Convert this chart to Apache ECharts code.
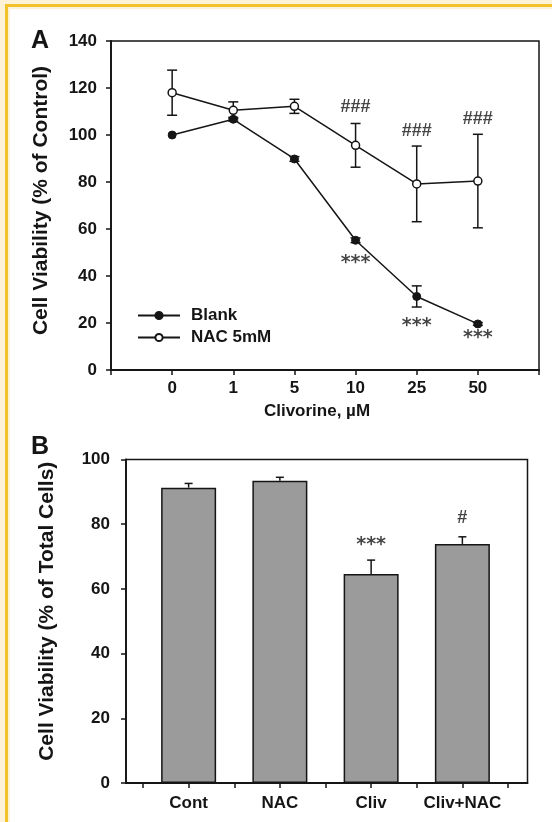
<!DOCTYPE html>
<html>
<head>
<meta charset="utf-8">
<script src="https://cdn.jsdelivr.net/npm/echarts@6/dist/echarts.min.js"></script>
<style>
html,body{margin:0;padding:0;background:#fdf1d6;}
#frame{position:absolute;left:5px;top:4px;width:560px;height:830px;border:3px solid #f2c12e;border-bottom:none;border-right:none;box-sizing:border-box;}
#inner{position:absolute;left:10px;top:9px;width:542px;height:813px;background:#ffffff;}
#chart{position:absolute;left:0;top:0;width:552px;height:822px;}
</style>
</head>
<body>
<div id="frame"></div>
<div id="inner"></div>
<div id="chart"></div>
<script>
// ---------- Panel A data ----------
const doseLabels = ['0', '1', '5', '10', '25', '50'];
const blankMean = [100, 106.7, 89.8, 55.2, 31.3, 19.6];
const blankErr  = [0, 0.8, 1.0, 1.0, 4.5, 0.6];
const nacMean   = [118.0, 110.5, 112.2, 95.6, 79.2, 80.4];
const nacErr    = [9.6, 3.6, 3.0, 9.3, 16.1, 19.9];
const hashIdx   = [3, 4, 5];          // "###" over NAC at 10, 25, 50
const hashAt    = [111.9, 101.6, 106.7];
const starIdxA  = [3, 4, 5];          // "***" under Blank at 10, 25, 50
const starAtA   = [46.8, 20.0, 14.9];
const yTicksA   = [0, 140, 20];       // min, max, step

// ---------- Panel B data ----------
const groups   = ['Cont', 'NAC', 'Cliv', 'Cliv+NAC'];
const viab     = [91.3, 93.4, 64.6, 73.9];
const viabErr  = [1.3, 1.1, 4.3, 2.2];
const sigTextB = ['***', '#'];
const sigIdxB  = [2, 3];
const sigAtB   = [74.6, 82.0];
const yTicksB  = [0, 100, 20];

const FONT = '"Liberation Sans", Arial, sans-serif';
const STARFONT = '"DejaVu Sans", sans-serif';
const INK = '#151515';

const chart = echarts.init(document.getElementById('chart'), null, {renderer: 'canvas'});

function errRender(params, api) {
  const x = api.value(0), y = api.value(1), e = api.value(2);
  if (!e) return null;
  const top = api.coord([x, y + e]);
  const bot = api.coord([x, y - e]);
  const h = 5;
  const st = {stroke: INK, lineWidth: 1.5};
  return {type: 'group', children: [
    {type: 'line', shape: {x1: top[0], y1: top[1], x2: bot[0], y2: bot[1]}, style: st},
    {type: 'line', shape: {x1: top[0] - h, y1: top[1], x2: top[0] + h, y2: top[1]}, style: st},
    {type: 'line', shape: {x1: bot[0] - h, y1: bot[1], x2: bot[0] + h, y2: bot[1]}, style: st}
  ]};
}
function errUpRender(params, api) {
  const x = api.value(0), y = api.value(1), e = api.value(2);
  const top = api.coord([x, y + e]);
  const base = api.coord([x, y]);
  const h = 4;
  const st = {stroke: INK, lineWidth: 1.5};
  return {type: 'group', children: [
    {type: 'line', shape: {x1: top[0], y1: top[1], x2: base[0], y2: base[1]}, style: st},
    {type: 'line', shape: {x1: top[0] - h, y1: top[1], x2: top[0] + h, y2: top[1]}, style: st}
  ]};
}

const axisLine = {show: true, lineStyle: {color: INK, width: 1.8}};
const tick = {show: true, length: 5, lineStyle: {color: INK, width: 1.5}};
const lblStyle = {color: INK, fontFamily: FONT, fontWeight: 'bold', fontSize: 17};

const option = {
  animation: false,
  title: [
    {text: 'A', left: 26, top: 24, textStyle: {fontFamily: FONT, fontWeight: 'bold', fontSize: 25, color: INK}},
    {text: 'B', left: 26, top: 430, textStyle: {fontFamily: FONT, fontWeight: 'bold', fontSize: 25, color: INK}}
  ],
  legend: {
    left: 132, top: 302, orient: 'vertical',
    itemWidth: 42, itemHeight: 9, itemGap: 5,
    data: ['Blank', 'NAC 5mM'],
    textStyle: {fontFamily: FONT, fontWeight: 'bold', fontSize: 17, color: INK, lineHeight: 17, padding: [0, 0, 0, 6]}
  },
  grid: [
    {left: 111, top: 41, right: 13, height: 329, show: true, borderColor: INK, borderWidth: 1.5, backgroundColor: 'transparent'},
    {left: 126, top: 459.5, right: 24.5, height: 323.5, show: true, borderColor: INK, borderWidth: 1.5, backgroundColor: 'transparent'},
    {left: 143, top: 459.5, right: 44, height: 323.5, show: false}
  ],
  xAxis: [
    {gridIndex: 0, type: 'value', min: 0, max: 7, interval: 1,
     axisLine: axisLine, axisTick: tick, splitLine: {show: false},
     axisLabel: Object.assign({margin: 10, formatter: v => (v >= 1 && v <= doseLabels.length) ? doseLabels[v - 1] : ''}, lblStyle),
     name: 'Clivorine, \u00b5M', nameLocation: 'middle', nameGap: 33,
     nameTextStyle: {fontFamily: FONT, fontWeight: 'bold', fontSize: 17, color: INK, padding: [0, 16, 0, 0]}},
    {gridIndex: 1, type: 'value', min: 0, max: 1,
     axisLine: axisLine, axisTick: {show: false}, axisLabel: {show: false}, splitLine: {show: false}},
    {gridIndex: 2, type: 'value', min: -0.5, max: groups.length - 0.5, interval: 0.5,
     axisLine: {show: false}, axisTick: tick, splitLine: {show: false},
     axisLabel: Object.assign({margin: 12, formatter: v => Number.isInteger(v) && v >= 0 && v < groups.length ? groups[v] : ''}, lblStyle)}
  ],
  yAxis: [
    {gridIndex: 0, type: 'value', min: yTicksA[0], max: yTicksA[1], interval: yTicksA[2],
     axisLine: axisLine, axisTick: tick, splitLine: {show: false},
     axisLabel: Object.assign({margin: 14}, lblStyle),
     name: 'Cell Viability (% of Control)', nameLocation: 'middle', nameGap: 59,
     nameTextStyle: {fontFamily: FONT, fontWeight: 'bold', fontSize: 21, color: INK, padding: [0, 0, 0, 10]}},
    {gridIndex: 1, type: 'value', min: yTicksB[0], max: yTicksB[1], interval: yTicksB[2],
     axisLine: axisLine, axisTick: tick, splitLine: {show: false},
     axisLabel: Object.assign({margin: 16}, lblStyle),
     name: 'Cell Viability (% of Total Cells)', nameLocation: 'middle', nameGap: 68,
     nameTextStyle: {fontFamily: FONT, fontWeight: 'bold', fontSize: 21, color: INK, padding: [0, 0, 0, 20]}},
    {gridIndex: 2, type: 'value', min: yTicksB[0], max: yTicksB[1], show: false}
  ],
  series: [
    {type: 'custom', name: 'nacErr', xAxisIndex: 0, yAxisIndex: 0, z: 3, silent: true,
     renderItem: errRender, data: nacMean.map((v, i) => [i + 1, v, nacErr[i]])},
    {type: 'custom', name: 'blankErr', xAxisIndex: 0, yAxisIndex: 0, z: 3, silent: true,
     renderItem: errRender, data: blankMean.map((v, i) => [i + 1, v, blankErr[i]])},
    {type: 'line', name: 'NAC 5mM', xAxisIndex: 0, yAxisIndex: 0, z: 4,
     data: nacMean.map((v, i) => [i + 1, v]),
     symbol: 'circle', symbolSize: 8,
     lineStyle: {color: INK, width: 1.5},
     itemStyle: {color: '#ffffff', borderColor: INK, borderWidth: 1.5}},
    {type: 'line', name: 'Blank', xAxisIndex: 0, yAxisIndex: 0, z: 5,
     data: blankMean.map((v, i) => [i + 1, v]),
     symbol: 'circle', symbolSize: 8,
     lineStyle: {color: INK, width: 1.5},
     itemStyle: {color: INK, borderColor: INK, borderWidth: 1}},
    {type: 'scatter', name: 'hashA', xAxisIndex: 0, yAxisIndex: 0, symbolSize: 0, silent: true,
     data: hashIdx.map((k, i) => ({value: [k + 1, hashAt[i]], label: {formatter: '###'}})),
     label: {show: true, position: 'inside', color: INK, fontFamily: FONT, fontWeight: 'bold', fontSize: 18}},
    {type: 'scatter', name: 'starA', xAxisIndex: 0, yAxisIndex: 0, symbolSize: 0, silent: true,
     data: starIdxA.map((k, i) => ({value: [k + 1, starAtA[i]], label: {formatter: '***'}})),
     label: {show: true, position: 'inside', color: INK, fontFamily: STARFONT, fontWeight: 'bold', fontSize: 19, offset: [0, 3]}},
    {type: 'bar', name: 'viab', xAxisIndex: 2, yAxisIndex: 2, barWidth: 55, z: 3,
     data: viab.map((v, i) => [i, v]),
     itemStyle: {color: '#9b9b9b', borderColor: INK, borderWidth: 1.5}},
    {type: 'custom', name: 'viabErr', xAxisIndex: 2, yAxisIndex: 2, z: 4, silent: true,
     renderItem: errUpRender, data: viab.map((v, i) => [i, v, viabErr[i]])},
    {type: 'scatter', name: 'sigB', xAxisIndex: 2, yAxisIndex: 2, symbolSize: 0, silent: true,
     data: sigIdxB.map((k, i) => ({value: [k, sigAtB[i]], label: {formatter: sigTextB[i],
       fontFamily: sigTextB[i] === '***' ? STARFONT : FONT, fontSize: sigTextB[i] === '***' ? 19 : 18,
       offset: sigTextB[i] === '***' ? [0, 3] : [0, 0]}})),
     label: {show: true, position: 'inside', color: INK, fontWeight: 'bold'}}
  ]
};
chart.setOption(option);
</script>
</body>
</html>
